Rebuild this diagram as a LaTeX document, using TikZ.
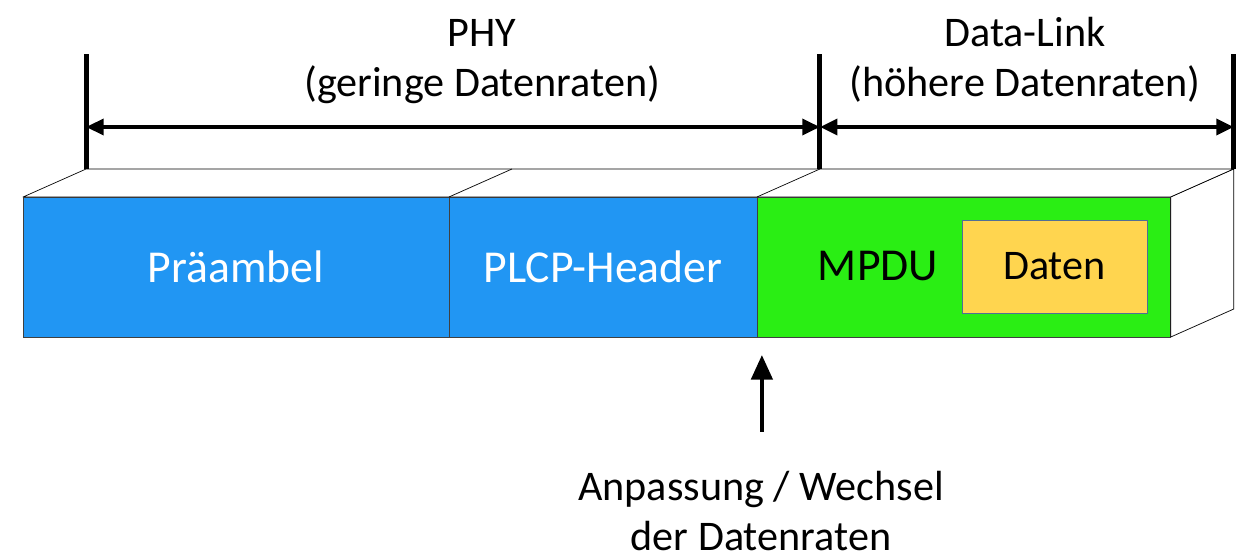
\documentclass[tikz,border=0pt]{standalone}
\usepackage{fontspec}
\setmainfont{Carlito}
\usetikzlibrary{positioning,arrows.meta,calc}

\definecolor{phyblue}{RGB}{33,150,243}
\definecolor{mpdugreen}{RGB}{42,238,20}
\definecolor{datenyellow}{RGB}{255,213,79}
\definecolor{datenedge}{RGB}{80,110,150}

\tikzstyle{field} = [draw=black!75, thin, rectangle, inner sep=0pt, outer sep=0pt,
    minimum height=2.8cm, font=\fontsize{26}{31}\selectfont]
\tikzstyle{face} = [draw=black, thin, fill=white, line join=round]
\tikzstyle{tick} = [line width=2.8pt]
\tikzstyle{span} = [{Triangle[length=10pt,width=9pt]}-{Triangle[length=10pt,width=9pt]}, line width=2.2pt]
\tikzstyle{caption} = [font=\fontsize{24}{28.5}\selectfont, align=center]

\begin{document}
\begin{tikzpicture}[x=0.02cm, y=-0.02cm]
\useasboundingbox (0,0) rectangle (1247,560);

% front face
\node [field, fill=phyblue, text=white, minimum width=8.52cm] (pre) at (236,267) {Präambel};
\node [field, fill=phyblue, text=white, minimum width=6.16cm, right=0pt of pre] (plcp) {PLCP-Header};
\node [field, fill=mpdugreen, minimum width=8.28cm, right=0pt of plcp] (mpdu) {};
\node [font=\fontsize{26}{31}\selectfont] (mpdutext) at (878,266) {MPDU};
\node [draw=datenedge, fill=datenyellow, minimum width=3.7cm, minimum height=1.86cm,
    font=\fontsize{24}{29}\selectfont] (daten) at (1054.5,266.5) {Daten};

% top and side faces
\coordinate (bk1) at ($(pre.north west)+(63,-28)$);
\coordinate (bk2) at ($(plcp.north west)+(63,-28)$);
\coordinate (bk3) at ($(mpdu.north west)+(63,-28)$);
\coordinate (bk4) at ($(mpdu.north east)+(63,-28)$);
\coordinate (bk5) at ($(mpdu.south east)+(63,-28)$);
\draw [face] (pre.north west) -- (bk1) -- (bk4) -- (mpdu.north east) -- cycle;
\draw [face] (mpdu.north east) -- (bk4) -- (bk5) -- (mpdu.south east) -- cycle;
\draw [thin] (plcp.north west) -- (bk2);
\draw [thin] (mpdu.north west) -- (bk3);

% spans
\coordinate (top) at (0,54);
\coordinate (yline) at (0,127);
\draw [tick] (bk1) -- (bk1 |- top);
\draw [tick] (bk3) -- (bk3 |- top);
\draw [tick] (bk4) -- (bk4 |- top);
\draw [span] (bk1 |- yline) -- (bk3 |- yline);
\draw [span] (bk3 |- yline) -- (bk4 |- yline);

\node [caption] (phy) at (482,62) {PHY\\(geringe Datenraten)};
\node [caption] (link) at (1025,60) {Data-Link\\(höhere Datenraten)};

% switch point
\node [caption] (switch) at (761,511) {Anpassung / Wechsel\\der Datenraten};
\coordinate (tip) at ($(mpdu.south west)+(5,18)$);
\coordinate (tail) at ($(tip)+(0,77)$);
\draw [-{Triangle[length=14pt,width=12pt]}, line width=2.4pt] (tail) -- (tip);
\end{tikzpicture}
\end{document}
